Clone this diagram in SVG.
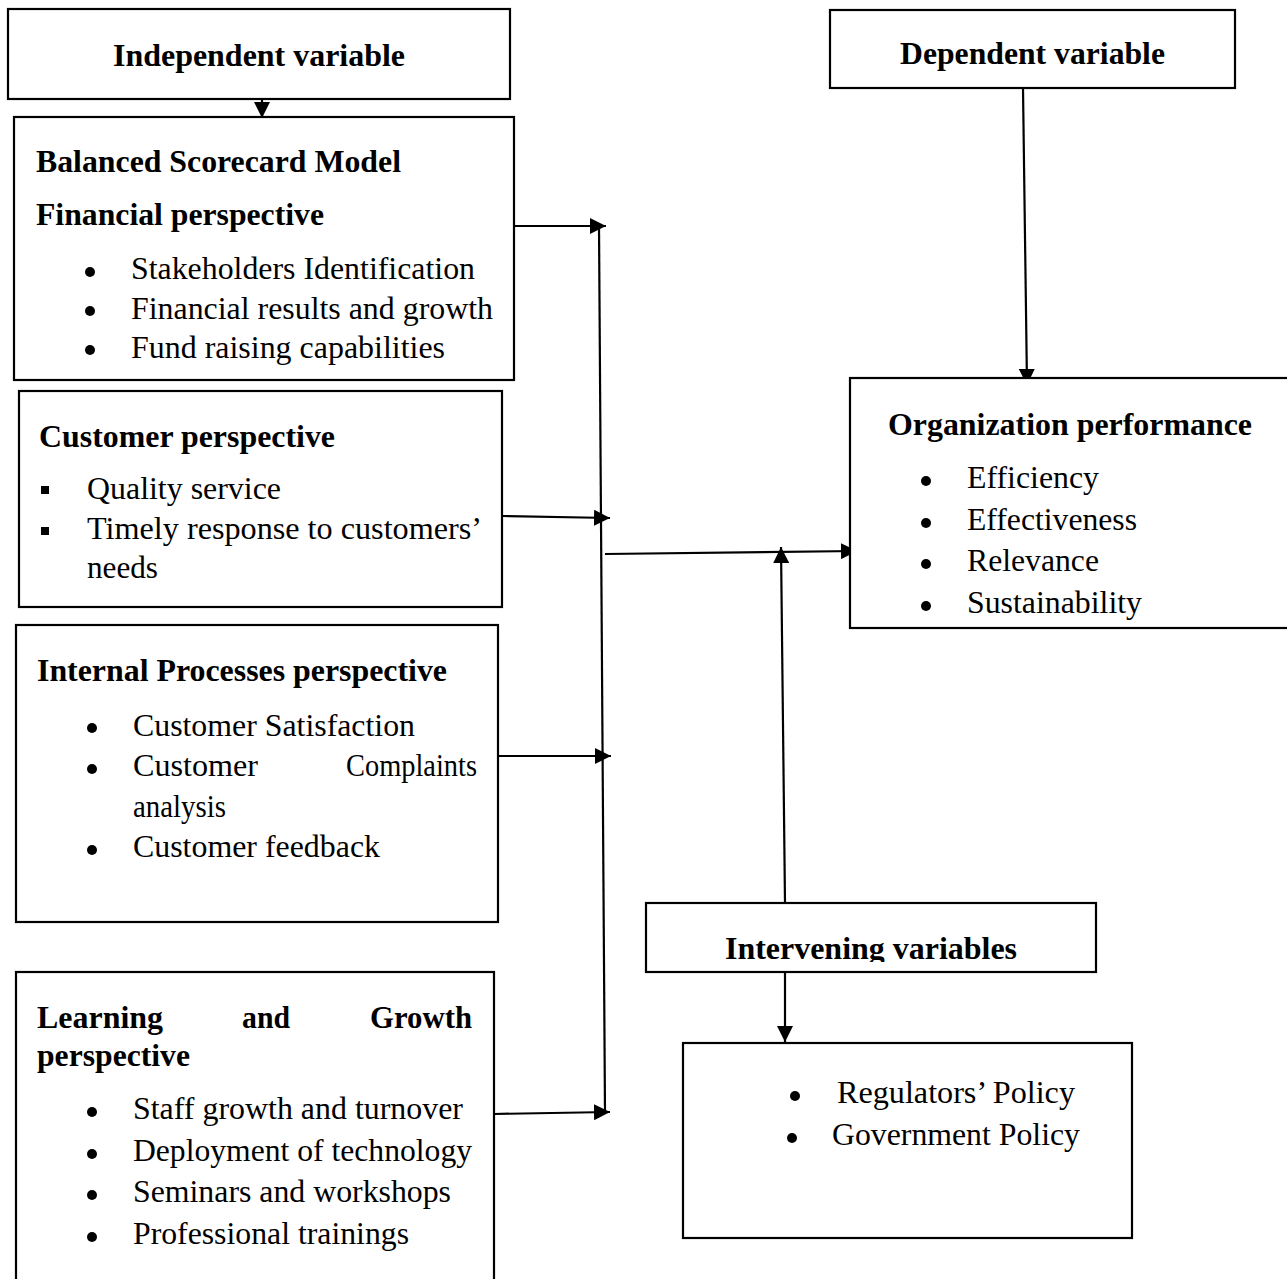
<svg xmlns="http://www.w3.org/2000/svg" width="1287" height="1279" viewBox="0 0 1287 1279">
<defs>
<style>
.box{fill:#fff;stroke:#000;stroke-width:2.2}
.t{font-family:'Liberation Serif','Times New Roman',serif;font-size:31.5px;fill:#000}
.b{font-weight:bold}
.ln{fill:none;stroke:#000;stroke-width:2.2}
.dot{fill:#000}
</style>
<marker id="ah" markerUnits="userSpaceOnUse" markerWidth="18" markerHeight="16" refX="16" refY="8" orient="auto">
<path d="M0,0 L16,8 L0,16 Z" fill="#000"/>
</marker>
<clipPath id="ivclip"><rect x="646" y="903" width="450" height="59"/></clipPath>
</defs>
<rect width="1287" height="1279" fill="#fff"/>

<g id="connectors">
<line class="ln" x1="262" y1="99" x2="262" y2="118" marker-end="url(#ah)"/>
<line class="ln" x1="510" y1="226" x2="606" y2="226" marker-end="url(#ah)"/>
<line class="ln" x1="599" y1="226" x2="605" y2="1112"/>
<line class="ln" x1="502" y1="516" x2="610" y2="518" marker-end="url(#ah)"/>
<line class="ln" x1="498" y1="756" x2="611" y2="756" marker-end="url(#ah)"/>
<line class="ln" x1="494" y1="1114" x2="610" y2="1112" marker-end="url(#ah)"/>
<line class="ln" x1="605" y1="554" x2="857" y2="551" marker-end="url(#ah)"/>
<line class="ln" x1="1023" y1="88" x2="1027" y2="385" marker-end="url(#ah)"/>
<line class="ln" x1="785" y1="903" x2="781" y2="547" marker-end="url(#ah)"/>
<line class="ln" x1="785" y1="972" x2="785" y2="1042" marker-end="url(#ah)"/>
</g>

<g font-family="Liberation Serif, Times New Roman, serif">
<g id="independent">
<rect class="box" x="8" y="9" width="502" height="90"/>
<text class="t b" x="113" y="66" textLength="292" lengthAdjust="spacingAndGlyphs">Independent variable</text>
</g>

<g id="financial">
<rect class="box" x="14" y="117" width="500" height="263"/>
<text class="t b" x="36" y="172" textLength="365" lengthAdjust="spacingAndGlyphs">Balanced Scorecard Model</text>
<text class="t b" x="36" y="225" textLength="288" lengthAdjust="spacingAndGlyphs">Financial perspective</text>
<circle class="dot" cx="90" cy="272" r="5"/>
<text class="t" x="131" y="279" textLength="344" lengthAdjust="spacingAndGlyphs">Stakeholders Identification</text>
<circle class="dot" cx="90" cy="311" r="5"/>
<text class="t" x="131" y="319" textLength="362" lengthAdjust="spacingAndGlyphs">Financial results and growth</text>
<circle class="dot" cx="90" cy="350" r="5"/>
<text class="t" x="131" y="358" textLength="314" lengthAdjust="spacingAndGlyphs">Fund raising capabilities</text>
</g>

<g id="customer">
<rect class="box" x="19" y="391" width="483" height="216"/>
<text class="t b" x="39" y="447" textLength="296" lengthAdjust="spacingAndGlyphs">Customer perspective</text>
<rect class="dot" x="41" y="486" width="8" height="8"/>
<text class="t" x="87" y="499" textLength="194" lengthAdjust="spacingAndGlyphs">Quality service</text>
<rect class="dot" x="41" y="527" width="8" height="8"/>
<text class="t" x="87" y="539" textLength="395" lengthAdjust="spacingAndGlyphs">Timely response to customers’</text>
<text class="t" x="87" y="578" textLength="71" lengthAdjust="spacingAndGlyphs">needs</text>
</g>

<g id="internal">
<rect class="box" x="16" y="625" width="482" height="297"/>
<text class="t b" x="37" y="681" textLength="410" lengthAdjust="spacingAndGlyphs">Internal Processes perspective</text>
<circle class="dot" cx="92" cy="728" r="5"/>
<text class="t" x="133" y="736" textLength="282" lengthAdjust="spacingAndGlyphs">Customer Satisfaction</text>
<circle class="dot" cx="92" cy="769" r="5"/>
<text class="t" x="133" y="776" textLength="125" lengthAdjust="spacingAndGlyphs">Customer</text>
<text class="t" x="346" y="776" textLength="131" lengthAdjust="spacingAndGlyphs">Complaints</text>
<text class="t" x="133" y="817" textLength="93" lengthAdjust="spacingAndGlyphs">analysis</text>
<circle class="dot" cx="92" cy="850" r="5"/>
<text class="t" x="133" y="857" textLength="247" lengthAdjust="spacingAndGlyphs">Customer feedback</text>
</g>

<g id="learning">
<rect class="box" x="16" y="972" width="478" height="320"/>
<text class="t b" x="37" y="1028" textLength="126" lengthAdjust="spacingAndGlyphs">Learning</text>
<text class="t b" x="242" y="1028" textLength="48" lengthAdjust="spacingAndGlyphs">and</text>
<text class="t b" x="370" y="1028" textLength="102" lengthAdjust="spacingAndGlyphs">Growth</text>
<text class="t b" x="37" y="1066" textLength="153" lengthAdjust="spacingAndGlyphs">perspective</text>
<circle class="dot" cx="92" cy="1112" r="5"/>
<text class="t" x="133" y="1119" textLength="330" lengthAdjust="spacingAndGlyphs">Staff growth and turnover</text>
<circle class="dot" cx="92" cy="1154" r="5"/>
<text class="t" x="133" y="1161" textLength="339" lengthAdjust="spacingAndGlyphs">Deployment of technology</text>
<circle class="dot" cx="92" cy="1195" r="5"/>
<text class="t" x="133" y="1202" textLength="318" lengthAdjust="spacingAndGlyphs">Seminars and workshops</text>
<circle class="dot" cx="92" cy="1237" r="5"/>
<text class="t" x="133" y="1244" textLength="276" lengthAdjust="spacingAndGlyphs">Professional trainings</text>
</g>

<g id="dependent">
<rect class="box" x="830" y="10" width="405" height="78"/>
<text class="t b" x="900" y="64" textLength="265" lengthAdjust="spacingAndGlyphs">Dependent variable</text>
</g>

<g id="organization">
<rect class="box" x="850" y="378" width="450" height="250"/>
<text class="t b" x="888" y="435" textLength="364" lengthAdjust="spacingAndGlyphs">Organization performance</text>
<circle class="dot" cx="926" cy="481" r="5"/>
<text class="t" x="967" y="488" textLength="132" lengthAdjust="spacingAndGlyphs">Efficiency</text>
<circle class="dot" cx="926" cy="523" r="5"/>
<text class="t" x="967" y="530" textLength="170" lengthAdjust="spacingAndGlyphs">Effectiveness</text>
<circle class="dot" cx="926" cy="564" r="5"/>
<text class="t" x="967" y="571" textLength="132" lengthAdjust="spacingAndGlyphs">Relevance</text>
<circle class="dot" cx="926" cy="606" r="5"/>
<text class="t" x="967" y="613" textLength="175" lengthAdjust="spacingAndGlyphs">Sustainability</text>
</g>

<g id="intervening">
<rect class="box" x="646" y="903" width="450" height="69"/>
<text class="t b" x="725" y="959" textLength="292" lengthAdjust="spacingAndGlyphs" clip-path="url(#ivclip)">Intervening variables</text>
</g>

<g id="policy">
<rect class="box" x="683" y="1043" width="449" height="195"/>
<circle class="dot" cx="795" cy="1096" r="5"/>
<text class="t" x="837" y="1103" textLength="238" lengthAdjust="spacingAndGlyphs">Regulators’ Policy</text>
<circle class="dot" cx="792" cy="1138" r="5"/>
<text class="t" x="832" y="1145" textLength="248" lengthAdjust="spacingAndGlyphs">Government Policy</text>
</g>
</g>
</svg>
